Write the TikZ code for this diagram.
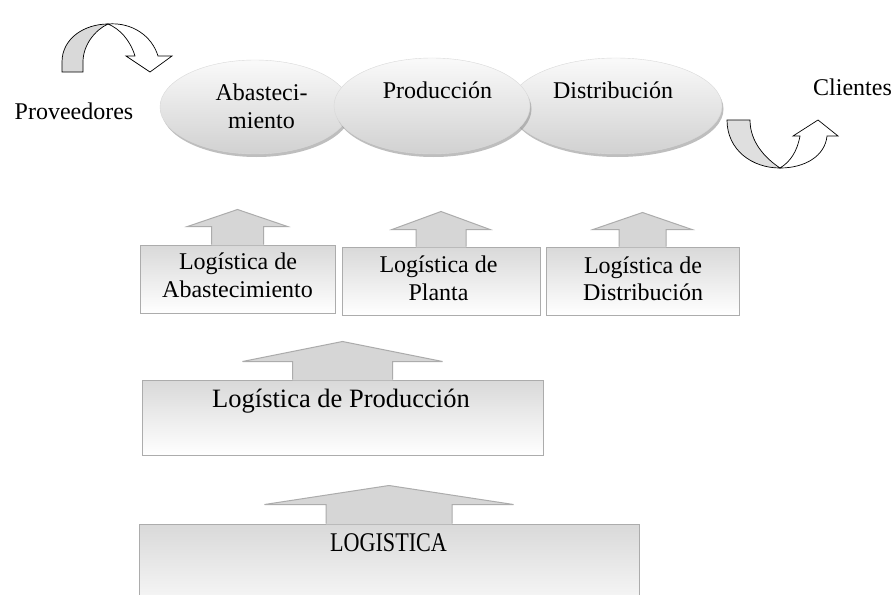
\documentclass[tikz,border=0pt]{standalone}
\usepackage{fontspec}
\setmainfont{Liberation Serif}
\usetikzlibrary{shapes.geometric,shadows,calc}
\newcommand\blkarrow[5]{%
  \fill[arrowfill] (#1.north) ++(-#2,0.9) -- ++(0,{-#3-0.9}) -- ++({#2-#4},0) -- ++(#4,-#5) -- ++(#4,#5) -- ++({#2-#4},0) -- ++(0,{#3+0.9}) -- cycle;
  \draw[arrowline] (#1.north) ++(-#2,0) -- ++(0,-#3) -- ++({#2-#4},0) -- ++(#4,-#5) -- ++(#4,#5) -- ++({#2-#4},0) -- ++(0,#3);
}
\begin{document}
\begin{tikzpicture}[x=1pt,y=-1pt,
  lbl/.style={inner sep=0pt, font=\fontsize{24}{28}\selectfont, anchor=base},
  ell/.style={ellipse, inner sep=0pt, top color=gray!4, bottom color=gray!36, draw=gray!30, line width=0.4pt,
              drop shadow={shadow xshift=1.5pt, shadow yshift=-3pt, fill=gray!85, opacity=0.6}},
  boxstyle/.style={rectangle, inner sep=0pt, top color=gray!30, bottom color=white, draw=gray!65, line width=1pt},
  arrowfill/.style={fill=gray!32},
  arrowline/.style={draw=gray!65, line width=1pt, line join=miter},
  curvearrow/.style={draw=black, line width=0.7pt, line join=miter}
]
\useasboundingbox (0,0) rectangle (893,594);
\clip (0,0) rectangle (893,594);
\fill[white] (0,0) rectangle (893,594);

% ---- top process ellipses (Produccion on top) ----
\node[ell, minimum width=190pt, minimum height=94pt] (abas) at (255,107) {};
\node[ell, minimum width=212pt, minimum height=96pt] (dist) at (616,106) {};
\node[ell, minimum width=196pt, minimum height=96pt] (prod) at (432,106) {};

\node[lbl] (tabas1) at (261.5,100) {Abasteci-};
\node[lbl] (tabas2) at (261.5,128) {miento};
\node[lbl] (tprod) at (437.5,98) {Producción};
\node[lbl] (tdist) at (613,98) {Distribución};

\node[lbl] (tprov) at (74,119) {Proveedores};
\node[lbl, anchor=base west] (tcli) at (813,95) {Clientes};

% ---- curved arrow (suppliers) ----
\filldraw[curvearrow, fill=gray!30]
  (62,72) -- (62,62) .. controls (62,38) and (85,24) .. (108,24)
  .. controls (95,30) and (83,45) .. (83,62) -- (83,72) -- cycle;
\filldraw[curvearrow, fill=white]
  (108,24) .. controls (132,22) and (152,36) .. (158,56)
  -- (172,56) -- (150,72) -- (126,56) -- (135,56)
  .. controls (130,40) and (120,29) .. (108,24) -- cycle;

% ---- curved arrow (customers) ----
\filldraw[curvearrow, fill=gray!25]
  (727,120) .. controls (727,150) and (752,168) .. (780,168)
  .. controls (765,158) and (750,142) .. (750,120) -- cycle;
\filldraw[curvearrow, fill=white]
  (780,168) .. controls (805,168) and (825,156) .. (827,136)
  -- (838,136) -- (818,120) -- (793,136) -- (800,136)
  .. controls (797,152) and (790,162) .. (780,168) -- cycle;

% ---- middle boxes ----
\node[boxstyle, minimum width=195pt, minimum height=68pt] (labas) at (237.5,279) {};
\node[boxstyle, minimum width=198pt, minimum height=68pt] (lplan) at (441,281) {};
\node[boxstyle, minimum width=193pt, minimum height=68pt] (ldist) at (642.5,281) {};
\blkarrow{labas}{26}{18}{50}{17}
\blkarrow{lplan}{25}{17}{49}{18}
\blkarrow{ldist}{23.5}{17}{49.5}{17}

\node[lbl] (tla1) at (238,269) {Logística de};
\node[lbl] (tla2) at (237.5,297) {Abastecimiento};
\node[lbl] (tlp1) at (438.5,272) {Logística de};
\node[lbl] (tlp2) at (438.5,300) {Planta};
\node[lbl] (tld1) at (643,273) {Logística de};
\node[lbl] (tld2) at (643,300) {Distribución};

% ---- production logistics ----
\node[boxstyle, minimum width=401pt, minimum height=75pt] (lprod) at (342.5,417.5) {};
\blkarrow{lprod}{50}{18}{100}{20}
\node[lbl, font=\fontsize{26.5}{30}\selectfont] (tlprod) at (341,407) {Logística de Producción};

% ---- logistics ----
\node[boxstyle, minimum width=500pt, minimum height=100pt] (llog) at (389,574) {};
\blkarrow{llog}{63}{19}{124.5}{19}
\node[lbl, font=\fontsize{27}{30}\selectfont, xscale=0.82, transform shape] (tlog) at (388.5,551.5) {LOGISTICA};
\end{tikzpicture}
\end{document}
